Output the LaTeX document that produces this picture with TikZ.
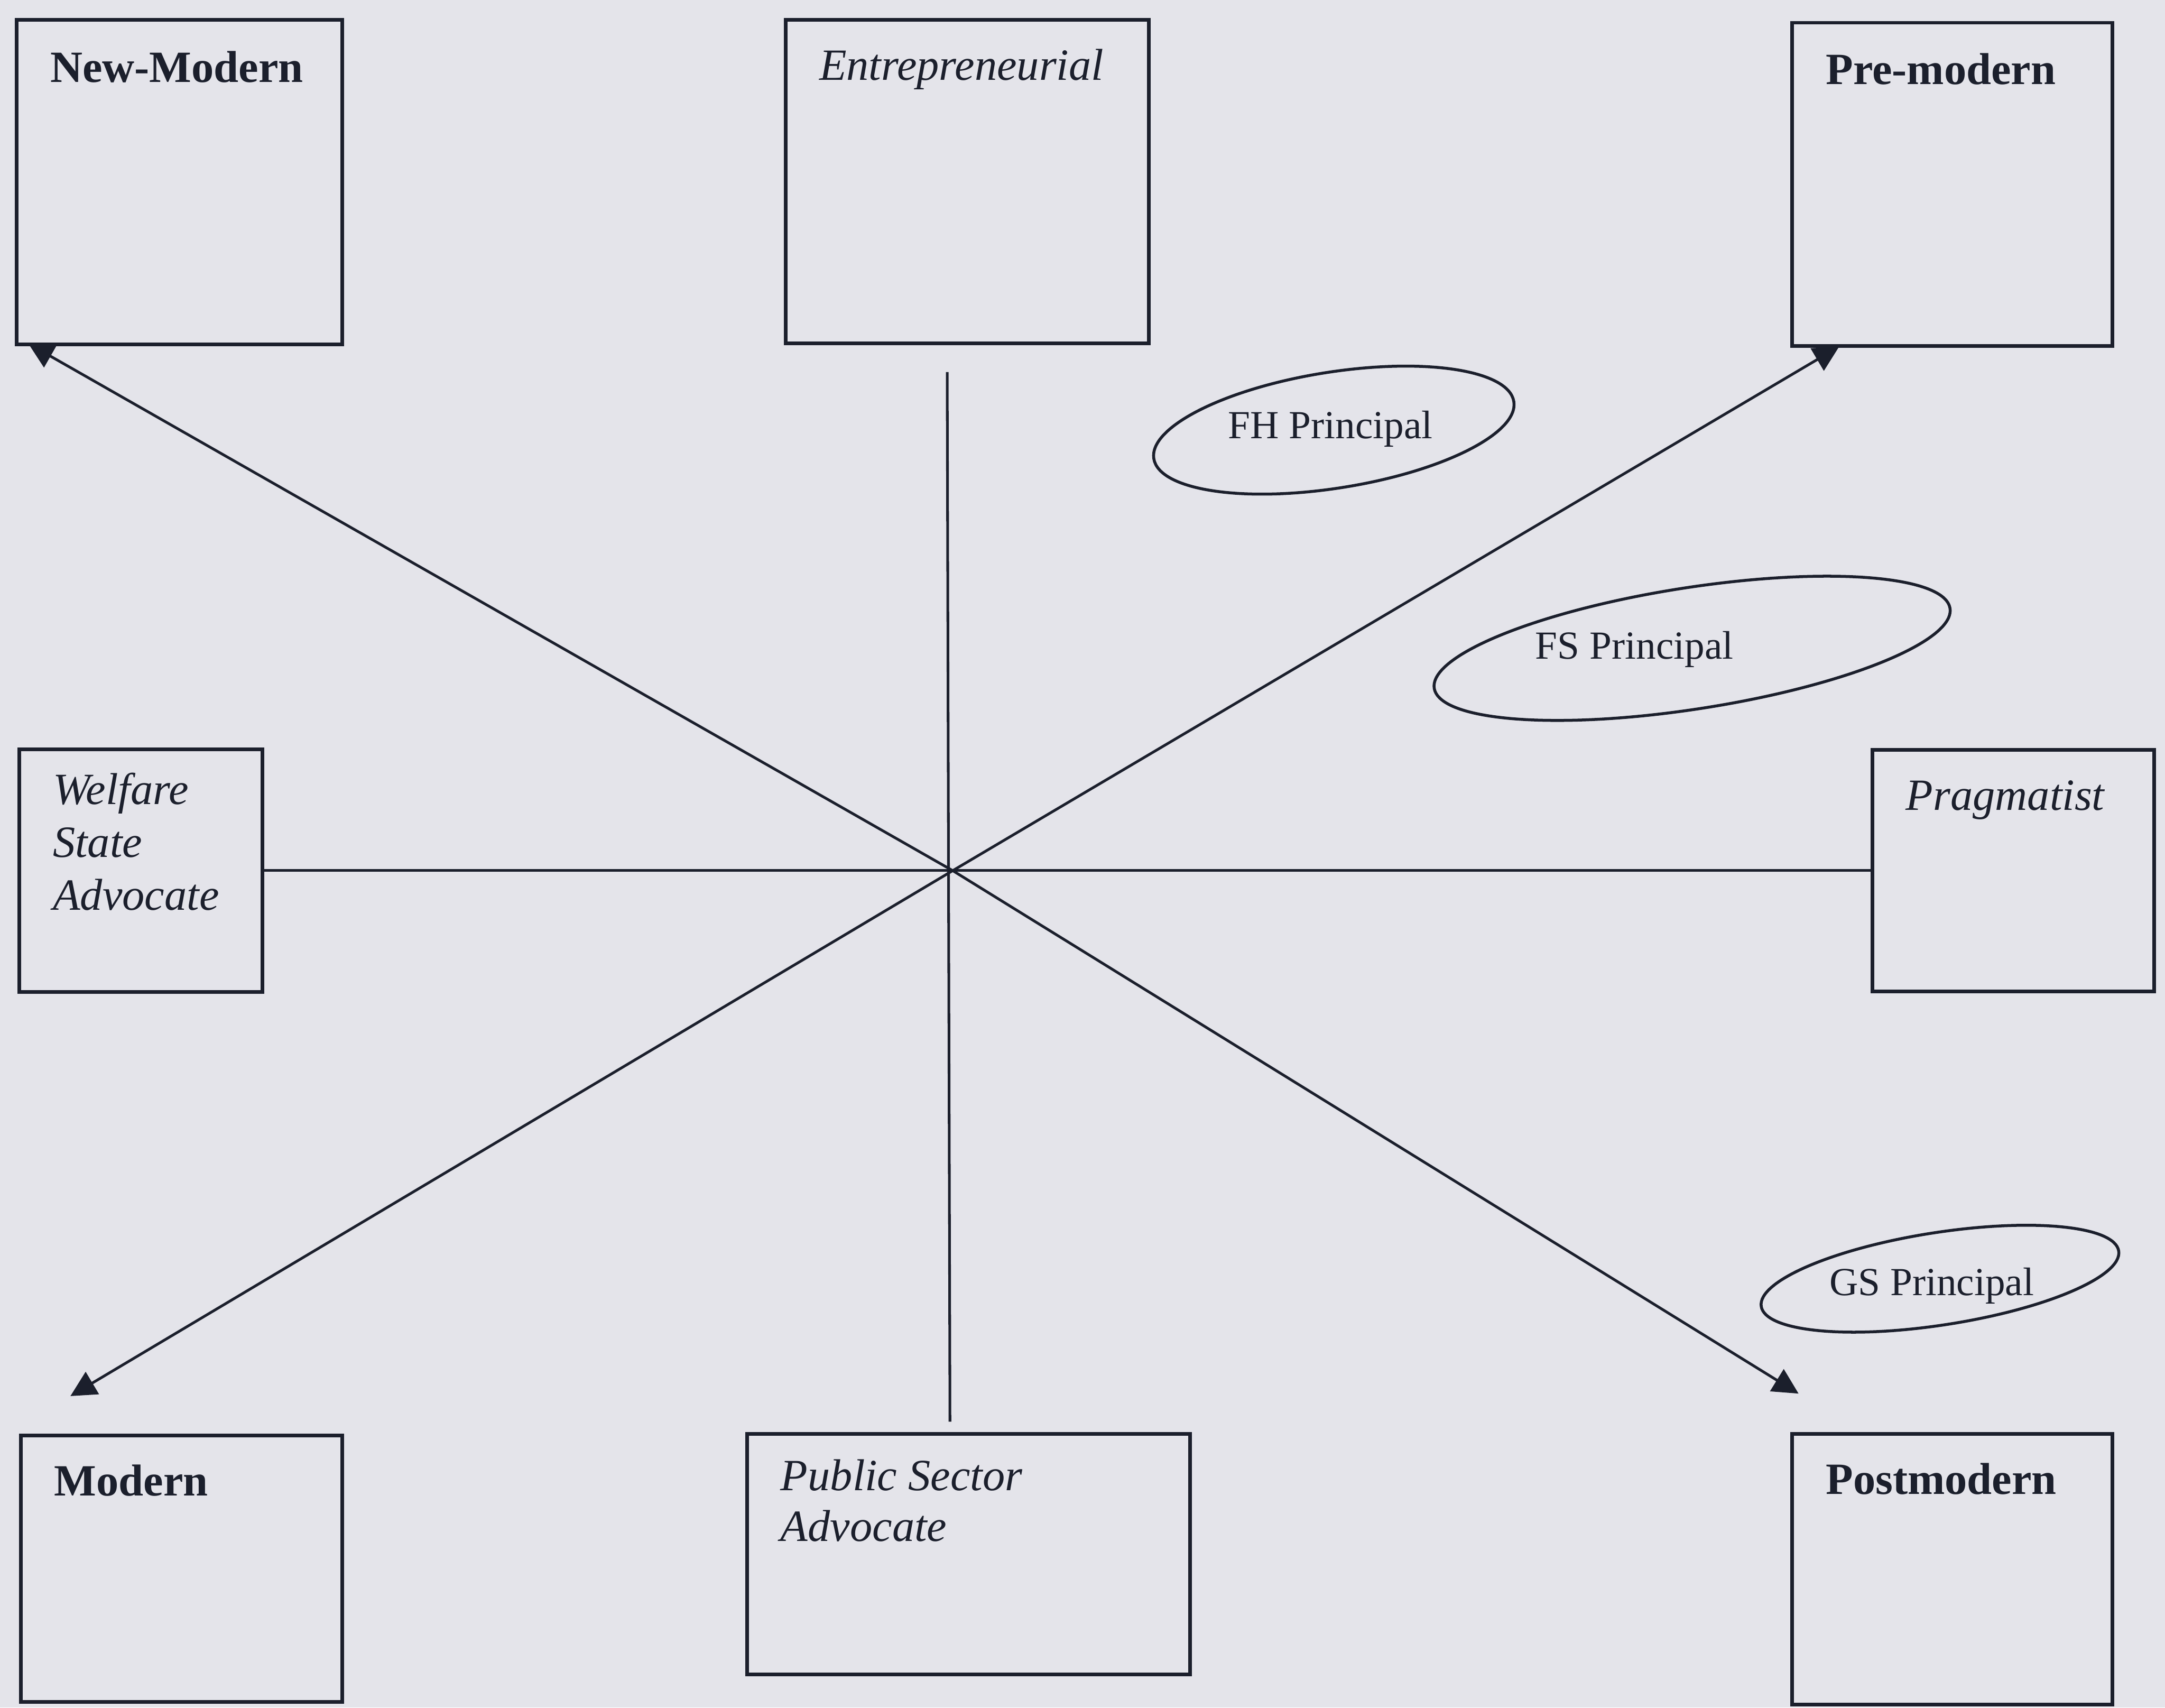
\documentclass[tikz,border=0pt]{standalone}
\usepackage{fontspec}
\setmainfont{Liberation Serif}
\usepackage{tikz}
\usetikzlibrary{shapes.geometric,arrows.meta}
\definecolor{pagebg}{HTML}{E4E4EA}
\definecolor{inkblue}{HTML}{1B1F2C}
\tikzset{
  catbox/.style={rectangle,draw=inkblue,line width=0.75pt,inner sep=0pt},
  boldlbl/.style={font=\fontsize{9.2}{10.9}\selectfont\bfseries,text=inkblue,
    anchor=base west,inner sep=0pt,align=left},
  itlbl/.style={font=\fontsize{9.2}{10.9}\selectfont\itshape,text=inkblue,
    anchor=base west,inner sep=0pt,align=left},
  principal/.style={ellipse,draw=inkblue,line width=0.6pt,inner sep=0pt},
  prinlbl/.style={font=\fontsize{8.2}{10}\selectfont,text=inkblue,anchor=base,inner sep=0pt},
  axisline/.style={draw=inkblue,line width=0.55pt},
  axisarrow/.style={-{Triangle[length=1.85mm,width=1.85mm]},draw=inkblue,line width=0.55pt},
}
\begin{document}
\begin{tikzpicture}
  \fill[pagebg] (0,0) rectangle (15.68,12.365);
  \node[catbox,minimum width=2.36cm,minimum height=2.35cm] (nm) at (1.30,11.045) {};
  \node[catbox,minimum width=2.63cm,minimum height=2.34cm] (en) at (7.005,11.05) {};
  \node[catbox,minimum width=2.32cm,minimum height=2.34cm] (pm) at (14.14,11.03) {};
  \node[catbox,minimum width=1.76cm,minimum height=1.76cm] (ws) at (1.02,6.06) {};
  \node[catbox,minimum width=2.04cm,minimum height=1.75cm] (pr) at (14.58,6.06) {};
  \node[catbox,minimum width=2.33cm,minimum height=1.93cm] (mo) at (1.315,1.005) {};
  \node[catbox,minimum width=3.21cm,minimum height=1.74cm] (ps) at (7.015,1.11) {};
  \node[catbox,minimum width=2.32cm,minimum height=1.96cm] (po) at (14.14,1.0) {};
  \node[boldlbl] (nmt) at ([shift={(0.25,-0.465)}]nm.north west) {New-Modern};
  \node[itlbl]   (ent) at ([shift={(0.25,-0.45)}]en.north west) {Entrepreneurial};
  \node[boldlbl] (pmt) at ([shift={(0.25,-0.46)}]pm.north west) {Pre-modern};
  \node[itlbl]   (wst) at ([shift={(0.25,-1.18)}]ws.north west) {Welfare\\State\\Advocate};
  \node[itlbl]   (prt) at ([shift={(0.25,-0.45)}]pr.north west) {Pragmatist};
  \node[boldlbl] (mot) at ([shift={(0.25,-0.45)}]mo.north west) {Modern};
  \node[itlbl,font=\fontsize{9.2}{10.5}\selectfont\itshape]
                 (pst) at ([shift={(0.25,-0.79)}]ps.north west) {Public Sector\\Advocate};
  \node[boldlbl] (pot) at ([shift={(0.25,-0.45)}]po.north west) {Postmodern};
  \coordinate (c)  at (6.90,6.06);
  \coordinate (vt) at (6.86,9.67);
  \coordinate (vb) at (6.88,2.07);
  \coordinate (ul) at (0.205,9.877);
  \coordinate (ur) at (13.32,9.855);
  \coordinate (ll) at (0.51,2.255);
  \coordinate (lr) at (13.026,2.273);
  \draw[axisline] (vt) -- (vb);
  \draw[axisline] (ws.east) -- (pr.west);
  \draw[axisarrow] (c) -- (ul);
  \draw[axisarrow] (c) -- (ur);
  \draw[axisarrow] (c) -- (ll);
  \draw[axisarrow] (c) -- (lr);
  \node[principal,rotate=9,minimum width=2.64cm,minimum height=0.84cm] (fh) at (9.66,9.25) {};
  \node[principal,rotate=8.8,minimum width=3.78cm,minimum height=0.88cm] (fs) at (12.255,7.67) {};
  \node[principal,rotate=8.8,minimum width=2.62cm,minimum height=0.67cm] (gs) at (14.05,3.105) {};
  \node[prinlbl] (fht) at (9.635,9.19) {FH Principal};
  \node[prinlbl] (fst) at (11.837,7.592) {FS Principal};
  \node[prinlbl] (gst) at (13.99,2.983) {GS Principal};
\end{tikzpicture}
\end{document}
